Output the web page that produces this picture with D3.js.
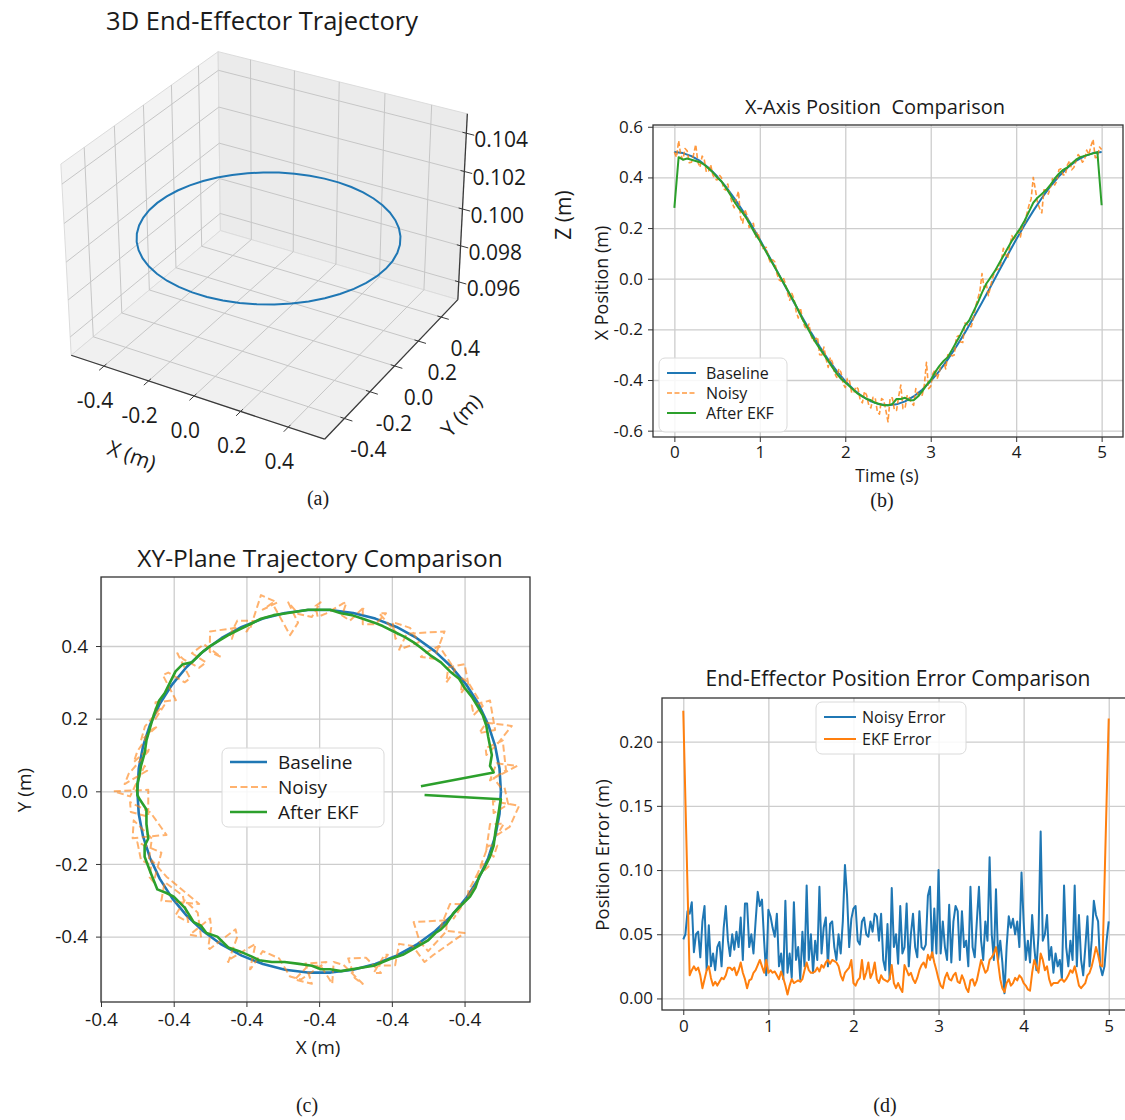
<!DOCTYPE html>
<html>
<head>
<meta charset="utf-8">
<script src="https://cdn.jsdelivr.net/npm/d3@7"></script>
<style>
  body { margin: 0; background: #fff; }
  svg { display: block; }
</style>
</head>
<body>
<script>
// ---------- data ----------
// baseline trajectory, sampled every 0.1 s from 0 to 5 s
const baseStep = 0.1;
const baseX = [0.5,0.4961,0.4843,0.4649,0.4382,0.4045,0.3645,0.3187,0.2679,0.2129,0.1545,0.0937,0.0314,
  -0.0314,-0.0937,-0.1545,-0.2129,-0.2679,-0.3187,-0.3645,-0.4045,-0.4382,-0.4649,-0.4843,-0.4961,-0.5,
  -0.4961,-0.4843,-0.4649,-0.4382,-0.4045,-0.3645,-0.3187,-0.2679,-0.2129,-0.1545,-0.0937,-0.0314,
  0.0314,0.0937,0.1545,0.2129,0.2679,0.3187,0.3645,0.4045,0.4382,0.4649,0.4843,0.4961,0.5];
const baseY = [0,0.0627,0.1243,0.1841,0.2409,0.2939,0.3423,0.3853,0.4222,0.4524,0.4755,0.4911,0.4990,
  0.4990,0.4911,0.4755,0.4524,0.4222,0.3853,0.3423,0.2939,0.2409,0.1841,0.1243,0.0627,0,
  -0.0627,-0.1243,-0.1841,-0.2409,-0.2939,-0.3423,-0.3853,-0.4222,-0.4524,-0.4755,-0.4911,-0.4990,
  -0.4990,-0.4911,-0.4755,-0.4524,-0.4222,-0.3853,-0.3423,-0.2939,-0.2409,-0.1841,-0.1243,-0.0627,0];
const circleZ = 0.1;

// noisy measurements, every 0.025 s
const noisyStep = 0.025;
const noisyX = [0.50,0.48,0.545,0.488,0.47,0.514,0.505,0.458,0.46,0.49,
  0.53,0.46,0.44,0.484,0.47,0.42,0.425,0.45,0.41,0.394,
  0.39,0.41,0.40,0.355,0.35,0.374,0.33,0.30,0.28,0.316,
  0.345,0.241,0.22,0.274,0.25,0.202,0.21,0.219,0.165,0.184,
  0.155,0.12,0.12,0.124,0.085,0.063,0.075,0.067,0.02,-0.004,
  -0.01,0.004,-0.02,-0.057,-0.085,-0.058,-0.08,-0.129,-0.155,-0.115,
  -0.16,-0.189,-0.20,-0.179,-0.225,-0.247,-0.24,-0.23,-0.30,-0.301,
  -0.27,-0.317,-0.35,-0.311,-0.33,-0.374,-0.39,-0.355,-0.37,-0.415,
  -0.43,-0.394,-0.405,-0.45,-0.45,-0.426,-0.435,-0.479,-0.49,-0.445,
  -0.46,-0.50,-0.51,-0.468,-0.47,-0.524,-0.535,-0.473,-0.48,-0.52,
  -0.565,-0.47,-0.47,-0.518,-0.52,-0.464,-0.42,-0.513,-0.51,-0.46,
  -0.47,-0.49,-0.50,-0.434,-0.455,-0.466,-0.46,-0.42,-0.33,-0.434,
  -0.425,-0.375,-0.36,-0.395,-0.37,-0.334,-0.325,-0.356,-0.30,-0.297,
  -0.305,-0.301,-0.23,-0.225,-0.25,-0.252,-0.175,-0.179,-0.19,-0.189,
  -0.155,-0.11,-0.08,-0.05,0.02,-0.038,-0.02,-0.067,-0.03,0.004,
  0.03,0.036,0.04,0.067,0.12,0.098,0.08,0.129,0.17,0.15,
  0.18,0.189,0.165,0.209,0.22,0.257,0.29,0.315,0.40,0.351,
  0.30,0.277,0.26,0.351,0.35,0.334,0.36,0.395,0.37,0.385,
  0.43,0.434,0.41,0.41,0.45,0.466,0.43,0.439,0.465,0.49,
  0.48,0.46,0.47,0.508,0.49,0.524,0.55,0.478,0.48,0.52,
  0.51];
const noisyY = [0.01,0.036,0.07,0.077,0.03,0.058,0.14,0.119,0.10,0.13,
  0.18,0.189,0.16,0.169,0.25,0.237,0.21,0.235,0.30,0.311,
  0.27,0.297,0.35,0.341,0.30,0.334,0.40,0.385,0.37,0.365,
  0.44,0.434,0.39,0.41,0.45,0.466,0.42,0.429,0.49,0.49,
  0.46,0.46,0.50,0.508,0.47,0.484,0.52,0.518,0.49,0.48,
  0.51,0.52,0.48,0.488,0.52,0.464,0.43,0.518,0.50,0.52,
  0.54,0.45,0.44,0.469,0.47,0.426,0.42,0.45,0.44,0.384,
  0.37,0.405,0.38,0.355,0.34,0.364,0.38,0.311,0.30,0.327,
  0.32,0.251,0.25,0.245,0.20,0.237,0.23,0.179,0.14,0.179,
  0.17,0.11,0.08,0.119,0.11,0.048,0.02,0.057,0.07,-0.014,
  0.00,0.004,-0.07,-0.057,-0.03,-0.058,-0.12,-0.129,-0.08,-0.13,
  -0.20,-0.189,-0.14,-0.169,-0.25,-0.237,-0.19,-0.235,-0.31,-0.301,
  -0.25,-0.287,-0.36,-0.341,-0.30,-0.334,-0.40,-0.395,-0.35,-0.375,
  -0.43,-0.434,-0.38,-0.40,-0.47,-0.466,-0.42,-0.439,-0.49,-0.49,
  -0.44,-0.46,-0.51,-0.518,-0.47,-0.474,-0.53,-0.518,-0.48,-0.48,
  -0.52,-0.53,-0.47,-0.478,-0.53,-0.514,-0.46,-0.458,-0.50,-0.50,
  -0.45,-0.45,-0.48,-0.479,-0.42,-0.426,-0.47,-0.45,-0.39,-0.384,
  -0.44,-0.415,-0.36,-0.355,-0.38,-0.374,-0.31,-0.311,-0.35,-0.327,
  -0.26,-0.251,-0.29,-0.275,-0.20,-0.207,-0.24,-0.219,-0.15,-0.149,
  -0.18,-0.16,-0.09,-0.089,-0.12,-0.098,-0.04,-0.027,-0.06,-0.036,
  0.01];

// EKF estimates, every 0.05 s
const ekfStep = 0.05;
const ekfX = [0.28,0.48,0.47,0.475,0.47,0.465,0.46,0.45,0.435,0.42,
  0.40,0.385,0.36,0.335,0.305,0.28,0.26,0.235,0.205,0.175,
  0.15,0.12,0.09,0.06,0.03,0.00,-0.03,-0.06,-0.09,-0.125,
  -0.16,-0.19,-0.22,-0.25,-0.275,-0.30,-0.325,-0.35,-0.375,-0.395,
  -0.41,-0.425,-0.44,-0.455,-0.465,-0.475,-0.48,-0.49,-0.495,-0.50,
  -0.50,-0.495,-0.475,-0.475,-0.47,-0.48,-0.48,-0.465,-0.445,-0.42,
  -0.40,-0.37,-0.345,-0.325,-0.31,-0.28,-0.25,-0.22,-0.185,-0.165,
  -0.13,-0.095,-0.055,-0.02,0.005,0.03,0.06,0.09,0.12,0.15,
  0.175,0.20,0.23,0.265,0.30,0.32,0.335,0.35,0.37,0.395,
  0.415,0.43,0.44,0.455,0.47,0.48,0.485,0.49,0.495,0.50,
  0.29];
const ekfY = [0.014,0.052,0.07,0.10,0.125,0.15,0.18,0.21,0.235,0.26,
  0.285,0.31,0.33,0.355,0.375,0.395,0.41,0.425,0.44,0.455,
  0.465,0.475,0.485,0.49,0.50,0.50,0.50,0.495,0.49,0.485,
  0.475,0.46,0.445,0.43,0.415,0.40,0.38,0.355,0.35,0.33,
  0.30,0.27,0.25,0.21,0.175,0.14,0.105,0.07,0.04,0.02,
  -0.01,-0.02,-0.05,-0.09,-0.13,-0.15,-0.18,-0.22,-0.27,-0.28,
  -0.29,-0.32,-0.36,-0.37,-0.39,-0.40,-0.43,-0.44,-0.455,-0.465,
  -0.47,-0.47,-0.475,-0.48,-0.49,-0.49,-0.495,-0.49,-0.485,-0.48,
  -0.47,-0.46,-0.45,-0.43,-0.41,-0.39,-0.38,-0.365,-0.335,-0.31,
  -0.29,-0.265,-0.235,-0.21,-0.18,-0.15,-0.11,-0.08,-0.05,-0.022,
  -0.01];

// position errors, every 0.025 s
const errStep = 0.025;
const noisyErr = [0.046,0.050,0.068,0.066,0.075,0.036,0.050,0.052,
  0.032,0.060,0.072,0.022,0.057,0.025,0.035,0.022,
  0.040,0.044,0.025,0.055,0.072,0.045,0.033,0.050,
  0.038,0.052,0.040,0.063,0.030,0.074,0.074,0.040,
  0.050,0.035,0.060,0.083,0.072,0.077,0.045,0.018,
  0.069,0.064,0.055,0.048,0.066,0.025,0.035,0.015,
  0.076,0.020,0.035,0.016,0.075,0.030,0.040,0.015,
  0.052,0.025,0.088,0.030,0.050,0.020,0.045,0.030,
  0.087,0.035,0.055,0.063,0.025,0.058,0.060,0.040,
  0.030,0.050,0.035,0.060,0.104,0.080,0.040,0.062,
  0.070,0.072,0.045,0.042,0.060,0.063,0.050,0.048,
  0.060,0.052,0.066,0.064,0.045,0.066,0.030,0.022,
  0.058,0.015,0.086,0.040,0.050,0.027,0.072,0.035,
  0.040,0.074,0.025,0.050,0.066,0.040,0.032,0.068,
  0.040,0.038,0.042,0.080,0.087,0.032,0.070,0.035,
  0.100,0.035,0.060,0.040,0.030,0.073,0.028,0.060,
  0.072,0.068,0.030,0.068,0.040,0.045,0.025,0.087,
  0.040,0.032,0.060,0.087,0.045,0.030,0.060,0.045,
  0.110,0.050,0.030,0.085,0.030,0.045,0.028,0.004,
  0.040,0.064,0.055,0.062,0.050,0.060,0.040,0.098,
  0.060,0.030,0.045,0.028,0.065,0.040,0.022,0.050,
  0.130,0.045,0.050,0.065,0.030,0.040,0.020,0.035,
  0.025,0.030,0.015,0.088,0.040,0.025,0.045,0.030,
  0.088,0.025,0.065,0.030,0.018,0.040,0.064,0.025,
  0.045,0.076,0.065,0.060,0.025,0.018,0.025,0.045,
  0.060];
const ekfErr = [0.224,0.155,0.086,0.018,0.022,0.025,0.022,0.024,
  0.018,0.008,0.015,0.022,0.025,0.016,0.010,0.013,
  0.010,0.013,0.016,0.015,0.018,0.024,0.024,0.022,
  0.024,0.018,0.022,0.028,0.020,0.015,0.008,0.014,
  0.015,0.020,0.022,0.026,0.030,0.025,0.020,0.030,
  0.020,0.022,0.020,0.021,0.018,0.015,0.021,0.016,
  0.010,0.003,0.010,0.015,0.012,0.013,0.014,0.013,
  0.015,0.022,0.028,0.022,0.020,0.020,0.021,0.024,
  0.021,0.026,0.024,0.028,0.030,0.027,0.030,0.029,
  0.028,0.025,0.018,0.014,0.020,0.022,0.024,0.030,
  0.012,0.010,0.014,0.016,0.030,0.015,0.020,0.028,
  0.016,0.020,0.028,0.015,0.012,0.018,0.015,0.014,
  0.013,0.015,0.026,0.012,0.008,0.012,0.008,0.005,
  0.026,0.022,0.018,0.020,0.015,0.012,0.016,0.022,
  0.026,0.028,0.024,0.034,0.030,0.036,0.028,0.022,
  0.015,0.010,0.008,0.016,0.020,0.015,0.014,0.018,
  0.020,0.013,0.012,0.018,0.014,0.008,0.005,0.014,
  0.015,0.010,0.014,0.022,0.030,0.025,0.020,0.022,
  0.030,0.032,0.035,0.040,0.028,0.015,0.008,0.005,
  0.012,0.015,0.010,0.012,0.016,0.014,0.018,0.016,
  0.012,0.010,0.007,0.006,0.020,0.030,0.025,0.020,
  0.035,0.030,0.022,0.025,0.015,0.010,0.012,0.012,
  0.012,0.014,0.015,0.013,0.015,0.018,0.022,0.020,
  0.025,0.018,0.010,0.008,0.010,0.012,0.018,0.020,
  0.025,0.032,0.040,0.034,0.026,0.025,0.089,0.154,
  0.218];

// ticks and labels
const ticks3xy = [-0.4, -0.2, 0, 0.2, 0.4];
const ticks3z = [0.096, 0.098, 0.100, 0.102, 0.104];
const timeTicks = [0, 1, 2, 3, 4, 5];
const posTicks = [-0.6, -0.4, -0.2, 0, 0.2, 0.4, 0.6];
const xyXTicks = [-0.6, -0.4, -0.2, 0, 0.2, 0.4];
const xyXTickLabels = ["-0.4", "-0.4", "-0.4", "-0.4", "-0.4", "-0.4"];
const xyYTicks = [-0.4, -0.2, 0, 0.2, 0.4];
const errTicks = [0, 0.05, 0.10, 0.15, 0.20];
const legendB = ["Baseline", "Noisy", "After EKF"];
const legendD = ["Noisy Error", "EKF Error"];
const captions = ["(a)", "(b)", "(c)", "(d)"];

// ---------- drawing ----------
const W = 1125, H = 1120;
const FONT = '"Open Sans", "Noto Sans", sans-serif';
const BLUE = "#1f77b4", ORANGE = "#ff7f0e", GREEN = "#2ca02c";
const INK = "#1a1a1a";

const svg = d3.select("body").append("svg")
  .attr("width", W).attr("height", H)
  .style("background", "#fff");

function label(g, txt, x, y, size, opts = {}) {
  return g.append("text")
    .attr("x", x).attr("y", y)
    .attr("text-anchor", opts.anchor || "middle")
    .attr("dominant-baseline", "central")
    .attr("transform", opts.rotate ? `rotate(${opts.rotate},${x},${y})` : null)
    .style("font-family", opts.family || FONT)
    .style("font-size", size + "px")
    .style("white-space", "pre")
    .attr("fill", INK)
    .text(txt);
}

// ===== (a) 3D trajectory =====
const view = { cx: 268.5, cy: 235, s: 145, dist: 15 };
const az = -60 * Math.PI / 180, el = 30 * Math.PI / 180;
const vR = [-Math.sin(az), Math.cos(az), 0];
const vU = [-Math.sin(el) * Math.cos(az), -Math.sin(el) * Math.sin(az), Math.cos(el)];
const vE = [Math.cos(el) * Math.cos(az), Math.cos(el) * Math.sin(az), Math.sin(el)];
const dot = (a, b) => a[0] * b[0] + a[1] * b[1] + a[2] * b[2];
function proj(p) {
  const k = view.dist / (view.dist - dot(vE, p));
  return [view.cx + view.s * dot(vR, p) * k, view.cy - view.s * dot(vU, p) * k];
}
const x3 = d3.scaleLinear([-0.55, 0.55], [-1, 1]);
const y3 = d3.scaleLinear([-0.55, 0.55], [-1, 1]);
const z3 = d3.scaleLinear([0.095, 0.105], [-0.75, 0.75]);
const ZB = -0.75, ZT = 0.75;

const gA = svg.append("g");
const poly = d3.line();
const panes = [
  { pts: [[-1, -1, ZB], [-1, 1, ZB], [-1, 1, ZT], [-1, -1, ZT]], fill: "#f3f3f3" },
  { pts: [[-1, 1, ZB], [1, 1, ZB], [1, 1, ZT], [-1, 1, ZT]], fill: "#ebebeb" },
  { pts: [[-1, -1, ZB], [1, -1, ZB], [1, 1, ZB], [-1, 1, ZB]], fill: "#f0f0f0" }
];
gA.selectAll("path.pane").data(panes).join("path")
  .attr("class", "pane")
  .attr("d", d => poly(d.pts.map(proj)) + "Z")
  .attr("fill", d => d.fill)
  .attr("stroke", "#dcdcdc").attr("stroke-width", 1);

const gridSegs = [];
ticks3xy.forEach(v => {
  const X = x3(v), Y = y3(v);
  gridSegs.push([[-1, Y, ZB], [-1, Y, ZT]]);   // left wall
  gridSegs.push([[X, 1, ZB], [X, 1, ZT]]);     // back wall
  gridSegs.push([[X, -1, ZB], [X, 1, ZB]]);    // floor
  gridSegs.push([[-1, Y, ZB], [1, Y, ZB]]);    // floor
});
ticks3z.forEach(v => {
  const Z = z3(v);
  gridSegs.push([[-1, -1, Z], [-1, 1, Z]]);
  gridSegs.push([[-1, 1, Z], [1, 1, Z]]);
});
gA.append("g").selectAll("path").data(gridSegs).join("path")
  .attr("d", d => poly(d.map(proj)))
  .attr("stroke", "#c6c6c6").attr("stroke-width", 1).attr("fill", "none");

// axis lines
const axisSegs = [
  [[-1, -1, ZB], [1, -1, ZB]],
  [[1, -1, ZB], [1, 1, ZB]],
  [[1, 1, ZB], [1, 1, ZT]]
];
gA.append("g").selectAll("path").data(axisSegs).join("path")
  .attr("d", d => poly(d.map(proj)))
  .attr("stroke", "#3a3a3a").attr("stroke-width", 1.3).attr("fill", "none");

// tick marks
const tickSegs = [];
ticks3xy.forEach(v => {
  tickSegs.push([[x3(v), -0.97, ZB], [x3(v), -1.06, ZB]]);
  tickSegs.push([[0.97, y3(v), ZB], [1.06, y3(v), ZB]]);
});
ticks3z.forEach(v => tickSegs.push([[0.97, 1, z3(v)], [1.06, 1, z3(v)]]));
gA.append("g").selectAll("path").data(tickSegs).join("path")
  .attr("d", d => poly(d.map(proj)))
  .attr("stroke", "#3a3a3a").attr("stroke-width", 1).attr("fill", "none");

// trajectory ellipse
gA.append("path")
  .attr("d", poly(baseX.map((v, i) => proj([x3(v), y3(baseY[i]), z3(circleZ)]))))
  .attr("fill", "none").attr("stroke", BLUE).attr("stroke-width", 2);

// tick labels
const fmt1 = v => v.toFixed(1);
ticks3xy.forEach(v => {
  const [px, py] = proj([x3(v), -1, ZB]);
  label(gA, fmt1(v), px - 9, py + 34, 21);
  const [qx, qy] = proj([1, y3(v), ZB]);
  label(gA, fmt1(v), qx + 24, qy + 31, 21);
});
ticks3z.forEach(v => {
  const [px, py] = proj([1, 1, z3(v)]);
  label(gA, v.toFixed(3), px + 8, py + 6, 21, { anchor: "start" });
});
label(gA, "X (m)", 132, 455, 21, { rotate: 20 });
label(gA, "Y (m)", 461, 415, 21, { rotate: -47 });
label(gA, "Z (m)", 563, 215, 21, { rotate: -90 });
label(gA, "3D End-Effector Trajectory", 262, 20, 25.5);

// ===== shared 2-D helpers =====
function grid(g, x, y, xt, yt) {
  const [xl, xr] = x.range(), [yb, ytop] = y.range();
  g.append("g").attr("transform", `translate(0,${yb})`)
    .call(d3.axisBottom(x).tickValues(xt).tickSize(-(yb - ytop)).tickFormat(""))
    .call(a => a.select(".domain").remove())
    .selectAll("line").attr("stroke", "#cdcdcd").attr("stroke-width", 1.3);
  g.append("g").attr("transform", `translate(${xl},0)`)
    .call(d3.axisLeft(y).tickValues(yt).tickSize(-(xr - xl)).tickFormat(""))
    .call(a => a.select(".domain").remove())
    .selectAll("line").attr("stroke", "#cdcdcd").attr("stroke-width", 1.3);
}
function axes(g, x, y, o) {
  const [xl, xr] = x.range(), [yb, ytop] = y.range();
  const style = a => {
    a.select(".domain").remove();
    a.attr("color", "#333").attr("font-family", FONT).attr("font-size", o.fs);
    a.selectAll("text").attr("fill", INK);
  };
  g.append("g").attr("transform", `translate(0,${yb})`)
    .call(d3.axisBottom(x).tickValues(o.xt).tickSize(5).tickPadding(o.xPad).tickFormat(o.xf))
    .call(style);
  g.append("g").attr("transform", `translate(${xl},0)`)
    .call(d3.axisLeft(y).tickValues(o.yt).tickSize(5).tickPadding(o.yPad).tickFormat(o.yf))
    .call(style);
  g.append("rect").attr("x", xl).attr("y", ytop)
    .attr("width", xr - xl).attr("height", yb - ytop)
    .attr("fill", "none").attr("stroke", "#333").attr("stroke-width", 1.3);
}
function legend(g, box, names, styles, o) {
  g.append("rect").attr("x", box[0]).attr("y", box[1])
    .attr("width", box[2]).attr("height", box[3]).attr("rx", 6)
    .attr("fill", "#fff").attr("fill-opacity", 0.85)
    .attr("stroke", "#dadada").attr("stroke-width", 1);
  names.forEach((n, i) => {
    const s = styles[i];
    g.append("line").attr("x1", o.l0).attr("x2", o.l1).attr("y1", o.rows[i]).attr("y2", o.rows[i])
      .attr("stroke", s.color).attr("stroke-width", s.width)
      .attr("stroke-opacity", s.opacity || 1)
      .attr("stroke-dasharray", s.dash || null);
    label(g, n, o.tx, o.rows[i], o.fs, { anchor: "start" });
  });
}
function series(g, pts, s) {
  g.append("path").datum(pts)
    .attr("d", d3.line())
    .attr("fill", "none").attr("stroke", s.color).attr("stroke-width", s.width)
    .attr("stroke-opacity", s.opacity || 1)
    .attr("stroke-dasharray", s.dash || null)
    .attr("stroke-linejoin", "round");
}

// ===== (b) X position vs time =====
const gB = svg.append("g");
const xB = d3.scaleLinear([-0.25, 5.25], [653, 1123]);
const yB = d3.scaleLinear([-0.625, 0.607], [437, 125]);
grid(gB, xB, yB, timeTicks, posTicks);
const stB = [
  { color: BLUE, width: 2 },
  { color: ORANGE, width: 1.6, opacity: 0.8, dash: "5,2.5" },
  { color: GREEN, width: 2 }
];
series(gB, baseX.map((v, i) => [xB(i * baseStep), yB(v)]), stB[0]);
series(gB, noisyX.map((v, i) => [xB(i * noisyStep), yB(v)]), stB[1]);
series(gB, ekfX.map((v, i) => [xB(i * ekfStep), yB(v)]), stB[2]);
axes(gB, xB, yB, { xt: timeTicks, yt: posTicks, xf: d => d, yf: fmt1, fs: 17, xPad: 4, yPad: 5 });
legend(gB, [659, 358, 128, 74], legendB, stB, { l0: 667, l1: 696, tx: 706, rows: [373, 393, 413], fs: 16 });
label(gB, "X-Axis Position  Comparison", 875, 106, 20);
label(gB, "Time (s)", 887, 475, 17.5);
label(gB, "X Position (m)", 601, 283, 18, { rotate: -90 });

// ===== (c) XY plane =====
const gC = svg.append("g");
const xC = d3.scaleLinear([-0.6, 0.58], [101, 530]);
const yC = d3.scaleLinear([-0.58, 0.59], [1002, 577]);
grid(gC, xC, yC, xyXTicks, xyYTicks);
const stC = [
  { color: BLUE, width: 2.6 },
  { color: ORANGE, width: 2, opacity: 0.6, dash: "7,3.5" },
  { color: GREEN, width: 2.6 }
];
series(gC, baseX.map((v, i) => [xC(v), yC(baseY[i])]), stC[0]);
series(gC, noisyX.map((v, i) => [xC(v), yC(noisyY[i])]), stC[1]);
series(gC, ekfX.map((v, i) => [xC(v), yC(ekfY[i])]), stC[2]);
axes(gC, xC, yC, { xt: xyXTicks, yt: xyYTicks, xf: (d, i) => xyXTickLabels[i], yf: fmt1, fs: 19, xPad: 6, yPad: 8 });
legend(gC, [222, 748, 162, 79], legendB, stC, { l0: 230, l1: 267, tx: 278, rows: [762, 787, 812], fs: 19 });
label(gC, "XY-Plane Trajectory Comparison", 320, 557, 24.5);
label(gC, "X (m)", 318, 1047, 19);
label(gC, "Y (m)", 24, 790, 19, { rotate: -90 });

// ===== (d) position error =====
const gD = svg.append("g");
const xD = d3.scaleLinear([-0.25, 5.25], [662, 1130]);
const yD = d3.scaleLinear([-0.009, 0.234], [1010, 698]);
grid(gD, xD, yD, timeTicks, errTicks);
const stD = [
  { color: BLUE, width: 2 },
  { color: ORANGE, width: 2 }
];
series(gD, noisyErr.map((v, i) => [xD(i * errStep), yD(v)]), stD[0]);
series(gD, ekfErr.map((v, i) => [xD(i * errStep), yD(v)]), stD[1]);
axes(gD, xD, yD, { xt: timeTicks, yt: errTicks, xf: d => d, yf: d => d.toFixed(2), fs: 17, xPad: 5, yPad: 4 });
legend(gD, [816, 702, 150, 52], legendD, stD, { l0: 824, l1: 856, tx: 862, rows: [717, 739], fs: 16 });
label(gD, "End-Effector Position Error Comparison", 898, 678, 21);
label(gD, "Position Error (m)", 601, 855, 18.5, { rotate: -90 });

// ===== sub-figure captions =====
const capPos = [[318, 498], [882, 500], [307, 1105], [885, 1105]];
captions.forEach((c, i) => label(svg, c, capPos[i][0], capPos[i][1], 20, { family: '"Liberation Serif", "Times New Roman", serif' }));
</script>
</body>
</html>
